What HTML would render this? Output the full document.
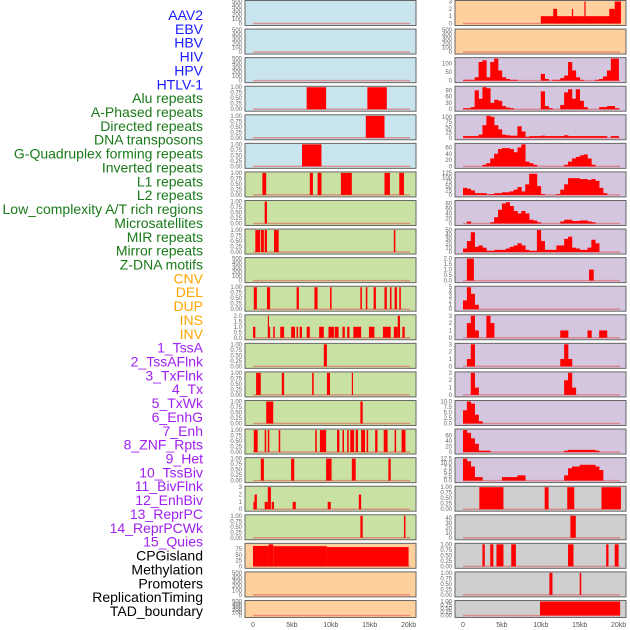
<!DOCTYPE html>
<html><head><meta charset="utf-8">
<style>
html,body{margin:0;padding:0;background:#fff;width:630px;height:630px;overflow:hidden}
svg{display:block}
.lab{font-family:"Liberation Sans",sans-serif;font-size:14px}
.tk{font-family:"Liberation Sans",sans-serif;font-size:6px;fill:#666}
.xt{font-family:"Liberation Sans",sans-serif;font-size:7px;fill:#555}
</style></head>
<body>
<svg id="chart" width="630" height="630" viewBox="0 0 630 630"></svg>
<script>
// ---- labels ----
const trackLabels = ["AAV2","EBV","HBV","HIV","HPV","HTLV-1","Alu repeats","A-Phased repeats","Directed repeats","DNA transposons","G-Quadruplex forming repeats","Inverted repeats","L1 repeats","L2 repeats","Low_complexity A/T rich regions","Microsatellites","MIR repeats","Mirror repeats","Z-DNA motifs","CNV","DEL","DUP","INS","INV","1_TssA","2_TssAFlnk","3_TxFlnk","4_Tx","5_TxWk","6_EnhG","7_Enh","8_ZNF_Rpts","9_Het","10_TssBiv","11_BivFlnk","12_EnhBiv","13_ReprPC","14_ReprPCWk","15_Quies","CPGisland","Methylation","Promoters","ReplicationTiming","TAD_boundary"];
const labelGroups = [6,13,5,15,5];
const groupColors = ["#1a1aff","#1a7a1a","#ffa500","#a020f0","#000000"];
const xTickValues = [0,5,10,15,20];
const xTickLabels = ["0","5kb","10kb","15kb","20kb"];

// ---- left column data (segments: [startKb,endKb,value]) ----
const L3 = [[6.9,9.4,1],[14.7,17.2,1]];
const L4 = [[14.5,16.9,1]];
const L5 = [[6.3,8.8,1]];
const L6 = [[1.2,1.7,1],[7.3,7.7,1],[8.3,8.8,1],[11.3,12.7,1],[16.9,17.6,1],[18.8,19.4,1]];
const L7 = [[1.5,1.8,1]];
const L8 = [[0.3,0.9,1],[1.0,1.4,1],[1.5,1.8,1],[2.7,3.3,1],[18.1,18.3,1]];
const L10 = [[0.1,0.5,1],[1.8,2.2,1],[5.6,5.9,1],[7.9,8.3,1],[9.9,10.1,1],[13.8,14.0,1],[14.5,14.7,1],[15.5,15.8,1],[16.9,17.2,1],[17.6,17.8,1],[18.2,18.5,1],[18.8,19.0,1]];
const L11 = [[0,0.3,1],[1.9,2.0,2],[2.0,2.2,1],[2.6,2.8,1],[3.5,4.0,1],[4.9,5.4,1],[5.6,5.8,1],[6.0,6.3,1],[6.9,7.3,1],[8.5,9.1,1],[9.7,10.4,1],[10.5,11.0,1],[11.5,11.8,1],[12.1,12.4,1],[12.9,13.9,1],[14.9,15.6,1],[16.7,17.7,1],[18.1,18.6,1],[18.6,18.9,2],[19.2,19.5,1]];
const L12 = [[9.1,9.5,1]];
const L13 = [[0.4,1.0,1],[3.7,4.0,1],[7.6,7.8,1],[9.5,9.9,1],[12.7,12.8,1]];
const L14 = [[1.7,2.6,1],[13.8,14.1,1]];
const L15 = [[0.1,0.6,1],[1.5,1.7,1],[1.9,2.1,1],[3.3,3.5,1],[8.0,8.2,1],[8.6,9.4,1],[10.8,11.1,1],[11.5,11.7,1],[12.1,12.3,1],[12.5,13.0,1],[13.2,13.5,1],[13.9,14.4,1],[14.6,14.8,1],[15.7,16.0,1],[16.8,17.3,1],[18.2,18.4,1],[19.1,19.6,1]];
const L16 = [[1.0,1.4,1],[4.9,5.3,1],[9.4,10.1,1],[12.7,13.2,1],[17.4,17.7,1]];
const L17 = [[0.05,0.2,1],[0.2,0.5,2],[1.5,1.9,1],[1.9,2.3,3],[2.4,2.7,1],[5.1,5.5,1],[9.6,10.0,1],[13.6,13.9,2]];
const L18 = [[13.8,14.1,1],[19.4,19.6,1]];
const L19 = [[0,2,88],[2,2.6,95],[2.6,9.5,87],[9.5,20,83]];

// ---- right column data (bins of 0.5kb from 0 kb) ----
const R2 = [5,5,5,20,110,120,20,110,130,60,20,10,5,5,0,0,0,0,0,0,40,10,0,5,5,15,30,110,60,20,5,0,0,0,5,10,25,60,130,130];
const R3 = [5,5,10,90,50,105,100,30,45,40,15,8,5,0,0,0,0,0,0,0,85,15,5,0,0,20,80,95,50,95,40,10,0,0,0,10,10,15,15,5];
const R4 = [8,8,8,8,15,60,105,100,60,40,15,12,10,10,55,30,5,8,8,8,10,8,8,8,8,8,12,8,8,8,8,8,8,8,8,8,8,0,8,8];
const R5 = [0,0,0,0,0,5,10,25,40,55,58,58,55,45,60,70,15,10,5,0,0,0,0,0,0,0,5,15,25,30,35,38,25,5,0,0,0,0,0,0];
const R6 = [40,35,25,10,10,10,3,5,10,10,15,15,20,30,45,20,60,120,120,50,5,0,0,0,5,30,60,95,95,95,90,90,85,90,80,40,10,0,0,0];
const R7 = [0,8,0,0,0,0,0,5,25,55,80,85,70,50,40,50,40,15,12,5,0,0,0,0,0,8,15,15,10,10,12,12,8,5,0,0,0,0,0,0];
const R8 = [8,25,45,12,15,10,3,3,5,5,5,8,12,15,20,15,5,3,3,50,25,5,5,5,15,15,30,35,10,8,5,5,10,28,20,0,0,0,0,0];
const R9s = [[0.5,1.4,2],[16.2,16.8,1]];
const R10 = [2,5,3.5,1];
const R11 = [0,2,3,1,0,0,3,2,0,0,0,0,0,0,0,0,0,0,0,0,0,0,0,0,0,1,1,0,0,0,0,0,1,0,0,1,1];
const R12 = [0,1,3,0,0,0,0,0,0,0,0,0,0,0,0,0,0,0,0,0,0,0,0,0,0,1,3,1];
const R13 = [0,0,3,1,0,0,0,0,0,0,0,0,0,0,0,0,0,0,0,0,0,0,0,0,0,0,2,3,1];
const R14 = [6,10,9,4,1];
const R15 = [80,70,50,30,5,5,5,0,0,0,0,0,0,0,0,0,0,0,0,0,0,0,0,0,0,0,5,8,8,8,8,8,8,8,5];
const R16 = [12.5,11,8,2,2,0,0,0,0,0,2,2,2,2,3,3,0,0,0,0,0,0,0,0,0,0,3,7,8,8,9,9,9,9,8,6];
const R17 = [[2.1,5.2,1],[10.5,11,1],[13.4,14.3,1],[17.8,20.3,1]];
const R18 = [[13.8,14.5,45]];
const R19 = [[2.5,2.8,1],[3.5,3.9,1],[4.3,4.5,1],[4.5,5.2,1],[6.2,6.8,1],[13.5,14.2,1],[18.4,18.7,1],[19.5,20,1]];
const R20 = [[11.1,11.5,1],[15.0,15.2,1]];
const R21 = [[9.9,20.2,1]];
const R0 = [[10,20,1],[11.6,12.1,2],[14,14.15,2],[15.6,15.75,3],[18.8,19.5,2],[19.5,20.3,3]];

// ---- y tick sets ----
const T500=[0,100,200,300,400,500], T1=[0,0.25,0.5,0.75,1], T2=[0,0.5,1,1.5,2], T3=[0,1,2,3];

const BLUE="#c8e4ec",GREEN="#c9e2a4",ORANGE="#fed09e",PURPLE="#d5c6e0",GREY="#cfcfcf";
const leftPanels = [
 {bg:BLUE,t:T500,max:500},{bg:BLUE,t:T500,max:500},{bg:BLUE,t:T500,max:500},
 {bg:BLUE,t:T1,max:1,seg:L3},{bg:BLUE,t:T1,max:1,seg:L4},{bg:BLUE,t:T1,max:1,seg:L5},
 {bg:GREEN,t:T1,max:1,seg:L6},{bg:GREEN,t:T1,max:1,seg:L7},{bg:GREEN,t:T1,max:1,seg:L8},
 {bg:GREEN,t:T500,max:500},{bg:GREEN,t:T1,max:1,seg:L10},{bg:GREEN,t:T2,max:2,seg:L11},
 {bg:GREEN,t:T1,max:1,seg:L12},{bg:GREEN,t:T1,max:1,seg:L13},{bg:GREEN,t:T1,max:1,seg:L14},
 {bg:GREEN,t:T1,max:1,seg:L15},{bg:GREEN,t:T1,max:1,seg:L16},{bg:GREEN,t:T3,max:3,seg:L17},
 {bg:GREEN,t:T1,max:1,seg:L18},{bg:ORANGE,t:[0,25,50,75],max:95,seg:L19},
 {bg:ORANGE,t:T500,max:500},{bg:ORANGE,t:T500,max:500}
];
const rightPanels = [
 {bg:ORANGE,t:T3,max:3,seg:R0},{bg:ORANGE,t:T500,max:500},
 {bg:PURPLE,t:[0,50,100],max:130,bins:R2},{bg:PURPLE,t:[0,30,60,90],max:105,bins:R3},
 {bg:PURPLE,t:[0,25,50,75,100],max:105,bins:R4},{bg:PURPLE,t:[0,20,40,60],max:70,bins:R5},
 {bg:PURPLE,t:[0,25,50,75,100,125],max:125,bins:R6},{bg:PURPLE,t:[0,20,40,60,80],max:88,bins:R7},
 {bg:PURPLE,t:[0,10,20,30,40,50],max:50,bins:R8},{bg:PURPLE,t:T2,max:2,seg:R9s},
 {bg:PURPLE,t:[0,1,2,3,4,5],max:5,bins:R10},{bg:PURPLE,t:T3,max:3,bins:R11},
 {bg:PURPLE,t:T3,max:3,bins:R12},{bg:PURPLE,t:T3,max:3,bins:R13},
 {bg:PURPLE,t:[0,2.5,5,7.5,10],max:10,bins:R14},{bg:PURPLE,t:[0,20,40,60],max:80,bins:R15},
 {bg:PURPLE,t:[0,2.5,5,7.5,10,12.5],max:12.5,bins:R16},{bg:GREY,t:T1,max:1,seg:R17},
 {bg:GREY,t:[0,10,20,30,40],max:45,seg:R18},{bg:GREY,t:T1,max:1,seg:R19},
 {bg:GREY,t:T1,max:1,seg:R20},{bg:GREY,t:T1,max:1,seg:R21}
];

const NS="http://www.w3.org/2000/svg";
const svg=document.getElementById('chart');
function mk(tag,attrs,parent){const e=document.createElementNS(NS,tag);for(const k in attrs)e.setAttribute(k,attrs[k]);(parent||svg).appendChild(e);return e;}

let gi=0,gc=0;
trackLabels.forEach((t,i)=>{
  while(gc>=labelGroups[gi]){gi++;gc=0;}
  const el=mk('text',{x:203,y:20+i*13.86,'text-anchor':'end','class':'lab',fill:groupColors[gi]});
  el.textContent=t;
  
  
  gc++;
});

function fmtTick(v,p){
  const allInt=p.t.every(x=>Number.isInteger(x));
  if(allInt) return String(v);
  if(p.t===T1) return v.toFixed(2);
  return v.toFixed(1);
}

function drawColumn(panels,px,pw,x0,side){
  const xs=kb=>x0+kb*7.78;
  panels.forEach((p,i)=>{
    const top=i*28.57, h=(i===21?17:25);
    const g=mk('g',{});
    
    
    mk('rect',{x:px,y:top+0.5,width:pw,height:h,fill:p.bg,stroke:'#666','stroke-width':1},g);
    const yb=top+h-1.5, yt=top+1.5;
    const ys=v=>yb-(v/p.max)*(yb-yt);
    p.t.forEach(v=>{
      const tt=mk('text',{x:px-3,y:ys(v)+2,'text-anchor':'end','class':'tk'},g);
      tt.textContent=fmtTick(v,p);
      
      
    });
    const bl=mk('line',{x1:xs(0),x2:xs(20.2),y1:yb,y2:yb,stroke:'#e06060','stroke-width':1.5,opacity:0.6},g);
    
    
    if(p.seg) p.seg.forEach(s=>{
      const r=mk('rect',{x:xs(s[0]),y:ys(s[2]),width:Math.max(1.2,xs(s[1])-xs(s[0])),height:yb-ys(s[2]),fill:'#ff0000'},g);
      
      
    });
    if(p.bins) p.bins.forEach((v,k)=>{
      if(!v) return;
      const r=mk('rect',{x:xs(k*0.5),y:ys(v),width:xs(0.5)-xs(0)+0.3,height:yb-ys(v),fill:'#ff0000'},g);
      
      
    });
  });
  xTickValues.forEach((v,k)=>{
    const t=mk('text',{x:xs(v),y:627,'text-anchor':'middle','class':'xt'});
    t.textContent=xTickLabels[k];
    
    
  });
}
drawColumn(leftPanels,245,171,253,'left');
drawColumn(rightPanels,455,171,463,'right');
</script>
</body></html>
